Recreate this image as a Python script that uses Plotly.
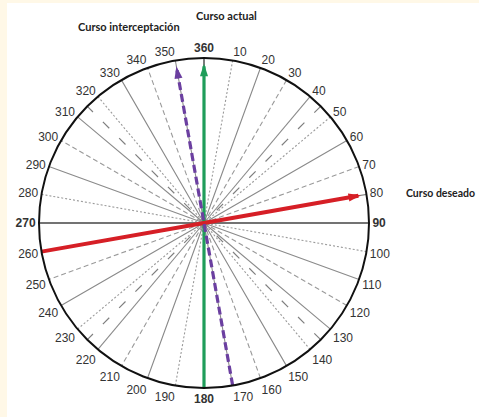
import plotly.graph_objects as go

# ---- data ----
tick_angles = list(range(0, 360, 10))
tick_labels = ["360" if a == 0 else str(a) for a in tick_angles]
bold_labels = ["360", "90", "180", "270"]

spoke_angles = [0, 10, 20, 30, 40, 45, 50, 60, 70, 80,
                90, 100, 110, 120, 130, 135, 140, 150, 160, 170]

course_names = ["Curso actual", "Curso deseado", "Curso interceptación"]
course_heads = [360, 80, 350]
course_tails = [180, 260, 170]

# ---- styles ----
def spoke_style(a):
    m = a % 90
    if m == 0:
        return dict(color="#444444", width=1.4, dash="solid")
    if m == 45:
        return dict(color="#808080", width=1.2, dash="9px,14px")
    if m in (20, 40, 60, 80):
        return dict(color="#8a8a8a", width=1.1, dash="solid")
    if m in (10, 50):
        return dict(color="#9a9a9a", width=1.1, dash="2px,2px")
    return dict(color="#9a9a9a", width=1.1, dash="5px,3px")

course_styles = {
    "Curso actual": dict(color="#1f9d5a", width=3.2, dash="solid"),
    "Curso deseado": dict(color="#d61f26", width=4, dash="solid"),
    "Curso interceptación": dict(color="#6b3fa0", width=3.2, dash="8px,4px"),
}

fig = go.Figure()

for a in spoke_angles:
    fig.add_trace(go.Scatterpolar(
        r=[1, 0, 1], theta=[a, a, a + 180], mode="lines",
        line=spoke_style(a), hoverinfo="skip", showlegend=False))

for name, head, tail in zip(course_names, course_heads, course_tails):
    st = course_styles[name]
    fig.add_trace(go.Scatterpolar(
        r=[1, 0, 0.95], theta=[tail, tail, head], mode="lines",
        line=st, hoverinfo="skip", showlegend=False))
    fig.add_trace(go.Scatterpolar(
        r=[0.965], theta=[head], mode="markers",
        marker=dict(symbol="arrow", size=13, color=st["color"], angle=head % 360,
                    line=dict(width=0)),
        hoverinfo="skip", showlegend=False))

W, H = 479, 417
cx, cy, R = 204, 223, 165
fig.update_layout(
    width=W, height=H, autosize=False,
    margin=dict(l=0, r=0, t=0, b=0),
    paper_bgcolor="white", plot_bgcolor="white",
    font=dict(family="Liberation Sans, Arial, sans-serif", size=12, color="#333333"),
    polar=dict(
        domain=dict(x=[(cx - R) / W, (cx + R) / W],
                    y=[(H - cy - R) / H, (H - cy + R) / H]),
        bgcolor="white",
        radialaxis=dict(visible=False, range=[0, 1]),
        angularaxis=dict(
            rotation=90, direction="clockwise",
            tickmode="array", tickvals=tick_angles,
            ticktext=[f"<b>{t}</b>" if t in bold_labels else t for t in tick_labels],
            ticks="", showgrid=False,
            showline=True, linecolor="#111111", linewidth=2,
            tickfont=dict(family="Liberation Sans, Arial, sans-serif", size=12, color="#333333"),
        ),
    ),
    shapes=[
        dict(type="rect", xref="paper", yref="paper", x0=0, x1=7 / W, y0=0, y1=1,
             fillcolor="#fff8e7", line=dict(width=0), layer="below"),
        dict(type="rect", xref="paper", yref="paper", x0=0, x1=1, y0=1 - 3 / H, y1=1,
             fillcolor="#fff8e7", line=dict(width=0), layer="below"),
    ],
    annotations=[
        dict(text="<b>Curso actual</b>", x=226 / W, y=1 - 15 / H, xref="paper", yref="paper",
             showarrow=False, xanchor="center", yanchor="middle",
             font=dict(family="Lato, sans-serif", size=11, color="#222222")),
        dict(text="<b>Curso interceptación</b>", x=129 / W, y=1 - 26 / H, xref="paper", yref="paper",
             showarrow=False, xanchor="center", yanchor="middle",
             font=dict(family="Lato, sans-serif", size=11, color="#222222")),
        dict(text="<b>Curso deseado</b>", x=404 / W, y=1 - 193 / H, xref="paper", yref="paper",
             showarrow=False, xanchor="left", yanchor="middle",
             font=dict(family="Lato, sans-serif", size=10.5, color="#222222")),
    ],
)

fig.write_html("out.html", config={"displayModeBar": False},
               post_script="document.body.style.margin='0';document.body.style.overflow='hidden';")
